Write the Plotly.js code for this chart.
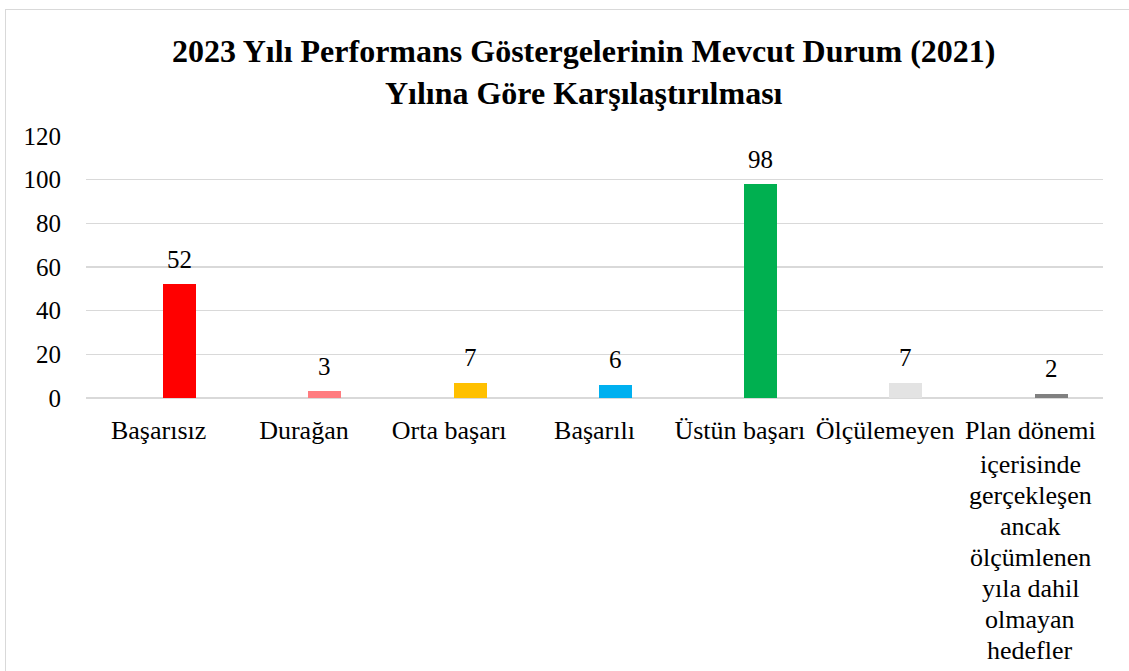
<!DOCTYPE html>
<html>
<head>
<meta charset="utf-8">
<script src="https://cdn.plot.ly/plotly-3.0.1.min.js"></script>
<style>
html,body{margin:0;padding:0;background:#fff;overflow:hidden;}
#frame{position:absolute;left:5px;top:9px;width:1200px;height:700px;border:1.5px solid #d9d9d9;box-sizing:border-box;}
#chart{position:absolute;left:0;top:0;width:1129px;height:671px;}
</style>
</head>
<body>
<div id="frame"></div>
<div id="chart"></div>
<script>
const categories = ["Başarısız", "Durağan", "Orta başarı", "Başarılı", "Üstün başarı", "Ölçülemeyen",
  "Plan dönemi|içerisinde|gerçekleşen|ancak|ölçümlenen|yıla dahil|olmayan|hedefler"];
const values = [52, 3, 7, 6, 98, 7, 2];
const colors = ["#FF0000", "#FF7C80", "#FFC000", "#00B0F0", "#00B050", "#E3E3E3", "#808080"];
const yTicks = [0, 20, 40, 60, 80, 100, 120];

const font = "Liberation Serif, Times New Roman, serif";
const barWidth = 0.227, barOffset = 0.03;

const xs = categories.map((c, i) => i);
const trace = {
  type: "bar",
  x: xs,
  y: values,
  marker: {color: colors},
  width: barWidth,
  offset: barOffset,
  hoverinfo: "x+y"
};

const annotations = [];
// value labels
values.forEach((v, i) => {
  annotations.push({
    x: i + barOffset + barWidth / 2, y: v, xref: "x", yref: "y",
    text: String(v), showarrow: false, yanchor: "middle", yshift: 25,
    font: {family: font, size: 25, color: "#000"}
  });
});
// continuation lines of multi-line category labels
const plotTop = 135.5, plotBottom = 398.5, plotH = plotBottom - plotTop;
categories.forEach((c, i) => {
  const lines = c.split("|");
  lines.slice(1).forEach((ln, k) => {
    const centerPx = 434.5 + 31.0 * (k + 1);
    annotations.push({
      x: i, y: (plotBottom - centerPx) / plotH, xref: "x", yref: "paper",
      text: ln, showarrow: false, xanchor: "center", yanchor: "middle",
      font: {family: font, size: 26, color: "#000"}
    });
  });
});

const layout = {
  width: 1129, height: 671,
  paper_bgcolor: "rgba(0,0,0,0)",
  plot_bgcolor: "rgba(0,0,0,0)",
  margin: {l: 86, r: 26, t: plotTop, b: 671 - plotBottom},
  showlegend: false,
  title: {
    text: "<b>2023 Yılı Performans Göstergelerinin Mevcut Durum (2021)<br>Yılına Göre Karşılaştırılması</b>",
    font: {family: font, size: 32, color: "#000"},
    x: 0.517, xanchor: "center", y: 0.907, yanchor: "top"
  },
  xaxis: {
    tickmode: "array",
    tickvals: xs,
    ticktext: categories.map(c => c.split("|")[0]),
    range: [-0.5, categories.length - 0.5],
    showgrid: false, zeroline: false, showline: false,
    ticks: "", tickangle: 0,
    tickfont: {family: font, size: 26, color: "#000"},
    ticklabelstandoff: 14
  },
  yaxis: {
    range: [0, 120],
    tickvals: yTicks,
    showgrid: true, gridcolor: "#D9D9D9", gridwidth: 1.5,
    zeroline: true, zerolinecolor: "#D9D9D9", zerolinewidth: 1.5,
    showline: false, ticks: "",
    tickfont: {family: font, size: 25, color: "#000"},
    ticklabelstandoff: 24
  },
  annotations: annotations,
  bargap: 0
};

Plotly.newPlot("chart", [trace], layout, {displayModeBar: false, staticPlot: true});
</script>
</body>
</html>
